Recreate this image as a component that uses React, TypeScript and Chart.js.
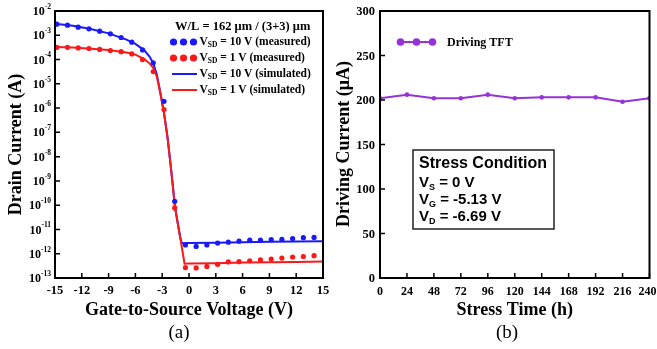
import React, { useEffect, useRef } from 'react';
import { Chart, registerables } from 'chart.js';

Chart.register(...registerables);

// ---------- Panel (a) data ----------
const vgsMeasured = [-14.8, -13.6, -12.4, -11.2, -10.0, -8.8, -7.6, -6.4, -5.2, -4.0, -2.8, -1.6, -0.4, 0.8, 2.0, 3.2, 4.4, 5.6, 6.8, 8.0, 9.2, 10.4, 11.6, 12.8, 14.0];
const idMeasured10V = [2.86e-3, 2.6e-3, 2.15e-3, 1.85e-3, 1.47e-3, 1.15e-3, 8.1e-4, 5.2e-4, 2.5e-4, 7.3e-5, 1.9e-6, 1.45e-10, 2.3e-12, 2.0e-12, 2.3e-12, 2.75e-12, 3.0e-12, 3.3e-12, 3.6e-12, 3.6e-12, 3.8e-12, 3.9e-12, 4.2e-12, 4.6e-12, 4.7e-12];
const idMeasured1V = [3.2e-4, 3.2e-4, 3.0e-4, 2.85e-4, 2.6e-4, 2.35e-4, 2.1e-4, 1.7e-4, 1.0e-4, 3.2e-5, 8.7e-7, 7.7e-11, 2.7e-13, 2.6e-13, 3.0e-13, 3.65e-13, 4.6e-13, 4.7e-13, 5.1e-13, 5.6e-13, 6.0e-13, 6.6e-13, 7.3e-13, 7.7e-13, 8.3e-13];

const vgsSim10V = [-15, -13, -11, -9, -7, -6, -5, -4.4, -4.0, -3.6, -3.2, -2.8, -2.4, -2.0, -1.56, -1.0, -0.8, 0, 3, 6, 9, 12, 15];
const idSim10V = [3.0e-3, 2.45e-3, 1.8e-3, 1.2e-3, 6.6e-4, 4.4e-4, 2.4e-4, 1.3e-4, 7.0e-5, 2.4e-5, 4.2e-6, 6.5e-7, 6e-8, 2.9e-9, 8e-11, 5e-12, 2.7e-12, 2.75e-12, 2.85e-12, 3.0e-12, 3.1e-12, 3.2e-12, 3.3e-12];
const vgsSim1V = [-15, -13, -11, -9, -7, -6, -5, -4.4, -4.0, -3.6, -3.2, -2.8, -2.4, -2.0, -1.56, -1.0, -0.5, 0, 3, 6, 9, 12, 15];
const idSim1V = [3.3e-4, 3.1e-4, 2.8e-4, 2.45e-4, 1.95e-4, 1.6e-4, 1.05e-4, 6.8e-5, 4.5e-5, 2.0e-5, 4.0e-6, 6.0e-7, 6e-8, 2.9e-9, 8e-11, 5e-12, 3.9e-13, 3.95e-13, 4.1e-13, 4.3e-13, 4.45e-13, 4.6e-13, 4.75e-13];

const xTicksA = [-15, -12, -9, -6, -3, 0, 3, 6, 9, 12, 15];
const yTickValuesA = [1e-2, 1e-3, 1e-4, 1e-5, 1e-6, 1e-7, 1e-8, 1e-9, 1e-10, 1e-11, 1e-12, 1e-13];
const yTickExponentsA = ['-2', '-3', '-4', '-5', '-6', '-7', '-8', '-9', '-10', '-11', '-12', '-13'];

// ---------- Panel (b) data ----------
const stressTime = [0, 24, 48, 72, 96, 120, 144, 168, 192, 216, 240];
const drivingCurrent = [202, 206, 202, 202, 206, 202, 203, 203, 203, 198, 202];
const xTicksB = [0, 24, 48, 72, 96, 120, 144, 168, 192, 216, 240];
const yTicksB = [0, 50, 100, 150, 200, 250, 300];

const SERIF = '"Liberation Serif", "Times New Roman", serif';
const SANS = '"Liberation Sans", Arial, sans-serif';
const BLUE = 'rgb(25,25,250)';
const RED = 'rgb(250,25,25)';
const PURPLE = 'rgb(150,50,215)';

function pts(xs: number[], ys: number[]) {
  return xs.map((x, i) => ({ x, y: ys[i] }));
}

function drawSubText(ctx: CanvasRenderingContext2D, x: number, y: number, main: string, sub: string, rest: string, size: number, subSize: number, family: string) {
  ctx.textAlign = 'left';
  ctx.textBaseline = 'middle';
  ctx.font = `bold ${size}px ${family}`;
  ctx.fillText(main, x, y);
  let cx = x + ctx.measureText(main).width;
  ctx.font = `bold ${subSize}px ${family}`;
  ctx.fillText(sub, cx, y + size * 0.3);
  cx += ctx.measureText(sub).width;
  ctx.font = `bold ${size}px ${family}`;
  ctx.fillText(rest, cx, y);
}

function drawFrameTicks(ctx: CanvasRenderingContext2D, a: any, xPx: number[], yPx: number[]) {
  ctx.strokeStyle = '#000';
  ctx.lineWidth = 2;
  ctx.strokeRect(a.left, a.top, a.right - a.left, a.bottom - a.top);
  ctx.lineWidth = 1.5;
  ctx.beginPath();
  for (const px of xPx) {
    ctx.moveTo(px, a.bottom);
    ctx.lineTo(px, a.bottom - 5);
  }
  for (const py of yPx) {
    ctx.moveTo(a.left, py);
    ctx.lineTo(a.left + 5, py);
  }
  ctx.stroke();
}

function verticalText(ctx: CanvasRenderingContext2D, text: string, x: number, y: number, font: string) {
  ctx.save();
  ctx.translate(x, y);
  ctx.rotate(-Math.PI / 2);
  ctx.font = font;
  ctx.textAlign = 'center';
  ctx.textBaseline = 'middle';
  ctx.fillText(text, 0, 0);
  ctx.restore();
}

const panelAPlugin = {
  id: 'panelA',
  afterDraw(chart: any) {
    const { ctx, chartArea: a, scales } = chart;
    const xs = scales.x;
    const ys = scales.y;
    ctx.save();
    const xPx = xTicksA.map((v) => xs.getPixelForValue(v));
    const yPx = yTickValuesA.map((v) => ys.getPixelForValue(v));
    drawFrameTicks(ctx, a, xPx, yPx);
    ctx.fillStyle = '#000';
    ctx.font = `bold 12.5px ${SERIF}`;
    ctx.textAlign = 'center';
    ctx.textBaseline = 'middle';
    xTicksA.forEach((v, i) => ctx.fillText(String(v), xPx[i], a.bottom + 13));
    yTickExponentsA.forEach((e, i) => {
      const py = yPx[i];
      ctx.font = `bold 7.5px ${SERIF}`;
      const we = ctx.measureText(e).width;
      ctx.font = `bold 12px ${SERIF}`;
      const wb = ctx.measureText('10').width;
      const right = a.left - 4;
      ctx.textAlign = 'left';
      ctx.textBaseline = 'middle';
      ctx.fillText('10', right - we - wb, py + 1);
      ctx.font = `bold 7.5px ${SERIF}`;
      ctx.fillText(e, right - we, py - 4);
    });
    ctx.font = `bold 18px ${SERIF}`;
    ctx.textAlign = 'center';
    ctx.textBaseline = 'middle';
    ctx.fillText('Gate-to-Source Voltage (V)', (a.left + a.right) / 2, 310);
    ctx.font = `19px ${SERIF}`;
    ctx.fillText('(a)', 179, 333);
    verticalText(ctx, 'Drain Current (A)', 16, (a.top + a.bottom) / 2, `bold 18px ${SERIF}`);
    ctx.font = `bold 12.5px ${SERIF}`;
    ctx.textAlign = 'left';
    ctx.fillText('W/L = 162 \u03bcm / (3+3) \u03bcm', 175, 27);
    const rows = [
      { type: 'dot', color: BLUE, main: ' = 10 V (measured)', y: 42 },
      { type: 'dot', color: RED, main: ' = 1 V (measured)', y: 58 },
      { type: 'line', color: BLUE, main: ' = 10 V (simulated)', y: 74 },
      { type: 'line', color: RED, main: ' = 1 V (simulated)', y: 90 },
    ];
    rows.forEach((r) => {
      ctx.fillStyle = r.color;
      ctx.strokeStyle = r.color;
      if (r.type === 'dot') {
        [173.5, 183.5, 193.5].forEach((cx) => {
          ctx.beginPath();
          ctx.arc(cx, r.y, 3.6, 0, Math.PI * 2);
          ctx.fill();
        });
      } else {
        ctx.lineWidth = 2;
        ctx.beginPath();
        ctx.moveTo(172, r.y);
        ctx.lineTo(197, r.y);
        ctx.stroke();
      }
      ctx.fillStyle = '#000';
      drawSubText(ctx, 199.5, r.y, 'V', 'SD', r.main, 11.5, 7.5, SERIF);
    });
    ctx.restore();
  },
};

const panelBPlugin = {
  id: 'panelB',
  afterDraw(chart: any) {
    const { ctx, chartArea: a, scales, width } = chart;
    const xs = scales.x;
    const ys = scales.y;
    ctx.save();
    const xPx = xTicksB.map((v) => xs.getPixelForValue(v));
    const yPx = yTicksB.map((v) => ys.getPixelForValue(v));
    drawFrameTicks(ctx, a, xPx, yPx);
    ctx.fillStyle = '#000';
    ctx.font = `bold 12px ${SERIF}`;
    ctx.textAlign = 'center';
    ctx.textBaseline = 'middle';
    xTicksB.forEach((v, i) => {
      const s = String(v);
      const w = ctx.measureText(s).width;
      const cx = Math.min(xPx[i], width - 0.5 - w / 2);
      ctx.fillText(s, cx, a.bottom + 14);
    });
    ctx.font = `bold 12.5px ${SERIF}`;
    ctx.textAlign = 'right';
    yTicksB.forEach((v, i) => ctx.fillText(String(v), a.left - 5, yPx[i] + 1));
    ctx.font = `bold 18px ${SERIF}`;
    ctx.textAlign = 'center';
    ctx.fillText('Stress Time (h)', (a.left + a.right) / 2, 310);
    ctx.font = `19px ${SERIF}`;
    ctx.fillText('(b)', 177, 333);
    verticalText(ctx, 'Driving Current (\u03bcA)', 14, 144, `bold 18px ${SERIF}`);
    ctx.strokeStyle = PURPLE;
    ctx.fillStyle = PURPLE;
    ctx.lineWidth = 2;
    ctx.beginPath();
    ctx.moveTo(70, 42);
    ctx.lineTo(103, 42);
    ctx.stroke();
    [70.5, 86.5, 102.5].forEach((cx) => {
      ctx.beginPath();
      ctx.arc(cx, 42, 3.8, 0, Math.PI * 2);
      ctx.fill();
    });
    ctx.fillStyle = '#000';
    ctx.font = `bold 12px ${SERIF}`;
    ctx.textAlign = 'left';
    ctx.fillText('Driving TFT', 117, 43);
    ctx.strokeStyle = '#222';
    ctx.lineWidth = 1.5;
    ctx.strokeRect(83, 150, 141, 79);
    ctx.font = `bold 16px ${SANS}`;
    ctx.fillText('Stress Condition', 89, 164);
    drawSubText(ctx, 89, 183, 'V', 'S', ' = 0 V', 15, 9, SANS);
    drawSubText(ctx, 89, 200, 'V', 'G', ' = -5.13 V', 15, 9, SANS);
    drawSubText(ctx, 89, 217, 'V', 'D', ' = -6.69 V', 15, 9, SANS);
    ctx.restore();
  },
};

function makeConfigA(): any {
  return {
    type: 'scatter',
    data: {
      datasets: [
        { data: pts(vgsMeasured, idMeasured10V), backgroundColor: BLUE, borderColor: BLUE, pointRadius: 2.6, pointBorderWidth: 0, showLine: false, order: 1 },
        { data: pts(vgsMeasured, idMeasured1V), backgroundColor: RED, borderColor: RED, pointRadius: 2.6, pointBorderWidth: 0, showLine: false, order: 2 },
        { data: pts(vgsSim10V, idSim10V), borderColor: BLUE, borderWidth: 2, pointRadius: 0, showLine: true, order: 4 },
        { data: pts(vgsSim1V, idSim1V), borderColor: RED, borderWidth: 2, pointRadius: 0, showLine: true, order: 3 },
      ],
    },
    options: {
      responsive: false,
      animation: false,
      devicePixelRatio: 1,
      layout: { padding: { left: 55, right: 7, top: 11, bottom: 71 } },
      plugins: { legend: { display: false }, tooltip: { enabled: false }, title: { display: false } },
      scales: {
        x: { type: 'linear', min: -15, max: 15, display: false },
        y: { type: 'logarithmic', min: 1e-13, max: 1e-2, display: false },
      },
    },
    plugins: [panelAPlugin],
  };
}

function makeConfigB(): any {
  return {
    type: 'scatter',
    data: {
      datasets: [
        { data: pts(stressTime, drivingCurrent), borderColor: PURPLE, backgroundColor: PURPLE, borderWidth: 2, pointRadius: 2.3, pointBorderWidth: 0, showLine: true },
      ],
    },
    options: {
      responsive: false,
      animation: false,
      devicePixelRatio: 1,
      layout: { padding: { left: 50, right: 7.5, top: 11, bottom: 71 } },
      plugins: { legend: { display: false }, tooltip: { enabled: false }, title: { display: false } },
      scales: {
        x: { type: 'linear', min: 0, max: 240, display: false },
        y: { type: 'linear', min: 0, max: 300, display: false },
      },
    },
    plugins: [panelBPlugin],
  };
}

function ChartCanvas({ make, width, height, left }: { make: () => any; width: number; height: number; left: number }) {
  const ref = useRef<HTMLCanvasElement>(null);
  useEffect(() => {
    const chart = new Chart(ref.current as HTMLCanvasElement, make());
    return () => chart.destroy();
  }, []);
  return (
    <canvas
      ref={ref}
      width={width}
      height={height}
      style={{ position: 'absolute', left, top: 0, width, height, display: 'block' }}
    />
  );
}

export default function App() {
  return (
    <div style={{ position: 'fixed', left: 0, top: 0, width: 657, height: 349, background: '#fff', overflow: 'hidden' }}>
      <ChartCanvas make={makeConfigA} width={330} height={349} left={0} />
      <ChartCanvas make={makeConfigB} width={327} height={349} left={330} />
    </div>
  );
}
